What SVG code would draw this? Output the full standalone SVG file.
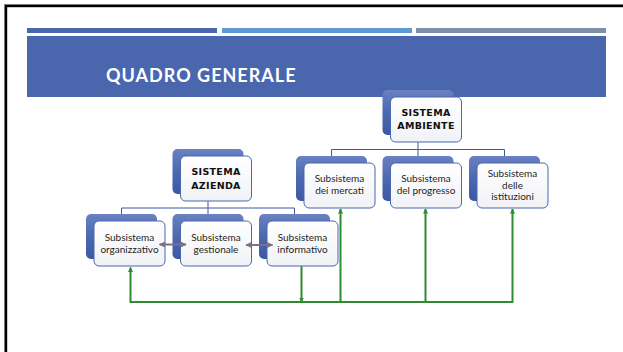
<svg xmlns="http://www.w3.org/2000/svg" width="623" height="352" viewBox="0 0 623 352">
<defs>
<linearGradient id="gBack" x1="0" y1="0" x2="0" y2="1">
<stop offset="0" stop-color="#6a81c2"/>
<stop offset="0.5" stop-color="#4d68b0"/>
<stop offset="1" stop-color="#3d58a3"/>
</linearGradient>
<linearGradient id="gFront" x1="0" y1="0" x2="0" y2="1">
<stop offset="0" stop-color="#ffffff"/>
<stop offset="1" stop-color="#f1f2f6"/>
</linearGradient>
<marker id="ag" viewBox="0 0 10 10" refX="9" refY="5" markerWidth="5" markerHeight="5" orient="auto-start-reverse" markerUnits="userSpaceOnUse">
<path d="M0,0 L10,5 L0,10 z" fill="#2e8b2e"/>
</marker>
<marker id="agr" viewBox="0 0 10 10" refX="9" refY="5" markerWidth="7" markerHeight="6" orient="auto-start-reverse" markerUnits="userSpaceOnUse">
<path d="M0,0 L10,5 L0,10 z" fill="#7a7088"/>
</marker>
</defs>
<style>
.back{fill:url(#gBack);}
.front{fill:url(#gFront);stroke:#4a66ac;stroke-width:1;}
.t{font-family:Lato,"Liberation Sans",sans-serif;font-size:10px;fill:#1e1e1e;text-anchor:middle;}
.h{font-family:"DejaVu Sans","Liberation Sans",sans-serif;font-weight:bold;font-size:9.5px;letter-spacing:0.3px;fill:#111;text-anchor:middle;}
.tree{stroke:#3e58a2;stroke-width:1;fill:none;}
.gl{stroke:#2e8b2e;stroke-width:2;fill:none;}
.gr{stroke:#7a7088;stroke-width:2;fill:none;}
</style>
<rect width="623" height="352" fill="#ffffff"/>
<rect x="4.5" y="4.5" width="700" height="400" fill="none" stroke="#999" stroke-width="1"/>
<rect x="6" y="6" width="700" height="400" fill="none" stroke="#000" stroke-width="2.4"/>
<rect x="27" y="28" width="190" height="5" fill="#4a67ad"/>
<rect x="222" y="28" width="190" height="5" fill="#5f9bd1"/>
<rect x="416" y="28" width="190" height="5" fill="#7f8fa9"/>
<rect x="27" y="36" width="579" height="61" fill="#4a67ad"/>
<text x="106" y="82" font-family="Lato,'Liberation Sans',sans-serif" font-weight="bold" font-size="18" letter-spacing="1" fill="#ffffff">QUADRO GENERALE</text>

<g id="connectors">
<path class="tree" d="M418,135 V149.5 M331.5,149.5 H504.5 M331.5,149.5 V156 M418,149.5 V156 M504.5,149.5 V156"/>
<path class="tree" d="M208,194 V208 M121.5,208 H294.5 M121.5,208 V214 M208,208 V214 M294.5,208 V214"/>
<path class="gl" d="M130.5,302 H513"/>
<path class="gl" d="M130.5,303 V267.5" marker-end="url(#ag)"/>
<path class="gl" d="M340.5,303 V209" marker-end="url(#ag)"/>
<path class="gl" d="M425.5,303 V209" marker-end="url(#ag)"/>
<path class="gl" d="M512.5,303 V209" marker-end="url(#ag)"/>
<path class="gl" d="M301.5,266 V302" stroke-width="1.5" marker-end="url(#ag)"/>
</g>

<g id="sistema-ambiente">
<rect class="back" x="382.5" y="90" width="71" height="45" rx="5"/>
<rect class="front" x="390.5" y="97" width="71" height="45" rx="5"/>
<text class="h" x="426" y="116">SISTEMA</text>
<text class="h" x="426" y="129">AMBIENTE</text>
</g>
<g id="subsistema-mercati">
<rect class="back" x="296" y="156" width="71" height="45" rx="5"/>
<rect class="front" x="304" y="163" width="71" height="45" rx="5"/>
<text class="t" x="339.5" y="182">Subsistema</text>
<text class="t" x="339.5" y="194">dei mercati</text>
</g>
<g id="subsistema-progresso">
<rect class="back" x="382.5" y="156" width="71" height="45" rx="5"/>
<rect class="front" x="390.5" y="163" width="71" height="45" rx="5"/>
<text class="t" x="426" y="182">Subsistema</text>
<text class="t" x="426" y="194">del progresso</text>
</g>
<g id="subsistema-istituzioni">
<rect class="back" x="469" y="156" width="71" height="45" rx="5"/>
<rect class="front" x="477" y="163" width="71" height="45" rx="5"/>
<text class="t" x="512.5" y="177">Subsistema</text>
<text class="t" x="512.5" y="189">delle</text>
<text class="t" x="512.5" y="200">istituzioni</text>
</g>

<g id="sistema-azienda">
<rect class="back" x="172.5" y="149" width="71" height="45" rx="5"/>
<rect class="front" x="180.5" y="156" width="71" height="45" rx="5"/>
<text class="h" x="216" y="175">SISTEMA</text>
<text class="h" x="216" y="188.5">AZIENDA</text>
</g>
<g id="subsistema-organizzativo">
<rect class="back" x="86" y="214" width="71" height="45" rx="5"/>
<rect class="front" x="94" y="221" width="71" height="45" rx="5"/>
<text class="t" x="129.5" y="240.5">Subsistema</text>
<text class="t" x="129.5" y="253">organizzativo</text>
</g>
<g id="subsistema-gestionale">
<rect class="back" x="172.5" y="214" width="71" height="45" rx="5"/>
<rect class="front" x="180.5" y="221" width="71" height="45" rx="5"/>
<text class="t" x="216" y="240.5">Subsistema</text>
<text class="t" x="216" y="253">gestionale</text>
</g>
<g id="subsistema-informativo">
<rect class="back" x="259" y="214" width="71" height="45" rx="5"/>
<rect class="front" x="267" y="221" width="71" height="45" rx="5"/>
<text class="t" x="302.5" y="240.5">Subsistema</text>
<text class="t" x="302.5" y="253">informativo</text>
</g>

<g id="double-arrows">
<path class="gr" d="M159.5,244.5 H186" marker-start="url(#agr)" marker-end="url(#agr)"/>
<path class="gr" d="M246,245 H272.5" marker-start="url(#agr)" marker-end="url(#agr)"/>
</g>
</svg>
